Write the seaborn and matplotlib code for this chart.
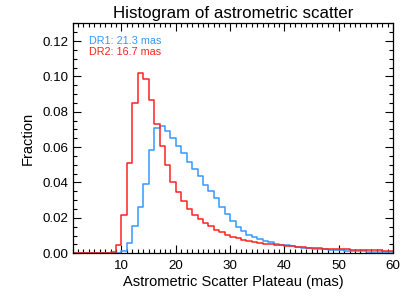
import numpy as np
import pandas as pd
import matplotlib
matplotlib.use("Agg")
import matplotlib.pyplot as plt
from matplotlib.ticker import MultipleLocator, FormatStrFormatter
import seaborn as sns

# bin edges (1 mas wide) and fractions
bin_edges = list(range(1, 61))
dr1_frac = [0, 0, 0, 0, 0, 0, 0, 0, 0,
            0.0013, 0.0056, 0.0155, 0.0262, 0.0393, 0.0586, 0.0708, 0.0717, 0.0689, 0.0650,
            0.0605, 0.0567, 0.0515, 0.0474, 0.0436, 0.0384, 0.0352, 0.0310, 0.0264, 0.0220,
            0.0183, 0.0150, 0.0124, 0.0105, 0.0091, 0.0080, 0.0069, 0.0062, 0.0053, 0.0048,
            0.0044, 0.0040, 0.0036, 0.0032, 0.0029, 0.0026, 0.0024, 0.0022, 0.0020, 0.0018,
            0.0016, 0.0014, 0.0012, 0.0011, 0.0010, 0.0009, 0.0008, 0.0007, 0.0006, 0.0005]
dr2_frac = [0, 0, 0, 0, 0, 0, 0, 0.0005, 0.0047,
            0.0215, 0.0510, 0.0850, 0.1017, 0.0987, 0.0867, 0.0730, 0.0608, 0.0500, 0.0400,
            0.0345, 0.0294, 0.0249, 0.0217, 0.0193, 0.0169, 0.0152, 0.0133, 0.0118, 0.0105,
            0.0093, 0.0084, 0.0076, 0.0070, 0.0064, 0.0058, 0.0054, 0.0050, 0.0047, 0.0044,
            0.0041, 0.0039, 0.0036, 0.0034, 0.0032, 0.0030, 0.0028, 0.0026, 0.0024, 0.0023,
            0.0022, 0.0021, 0.0020, 0.0019, 0.0018, 0.0017, 0.0017, 0.0016, 0.0015, 0.0015]
labels = ["DR1: 21.3 mas", "DR2: 16.7 mas"]
colors = ["#3399ff", "#ff2222"]

centers = np.array(bin_edges[:-1]) + 0.5
df = pd.DataFrame({
    "scatter": np.concatenate([centers, centers]),
    "frac": dr1_frac + dr2_frac,
    "release": ["DR1"] * len(centers) + ["DR2"] * len(centers),
})

sns.set_style("ticks")
plt.rcParams["font.family"] = ["Liberation Sans", "DejaVu Sans"]
plt.rcParams["text.color"] = "black"
plt.rcParams["axes.labelcolor"] = "black"

fig = plt.figure(figsize=(4.15, 3.0), dpi=100)
ax = fig.add_axes([0.175, 0.156, 0.772, 0.766])

for rel, col in zip(["DR1", "DR2"], colors):
    sub = df[df["release"] == rel]
    sns.histplot(data=sub, x="scatter", weights="frac", bins=bin_edges,
                 element="step", fill=False, color=col, linewidth=1.1, ax=ax)

ax.set_xlim(1, 60)
ax.set_ylim(0, 0.13)
ax.xaxis.set_major_locator(MultipleLocator(10))
ax.xaxis.set_minor_locator(MultipleLocator(1))
ax.yaxis.set_major_locator(MultipleLocator(0.02))
ax.yaxis.set_minor_locator(MultipleLocator(0.005))
ax.yaxis.set_major_formatter(FormatStrFormatter("%.2f"))
ax.tick_params(which="both", direction="in", top=True, right=True, colors="black",
               labelsize=9.6, width=0.8)
ax.tick_params(which="major", length=6)
ax.tick_params(which="minor", length=3)
ax.tick_params(axis="x", which="major", pad=5)
ax.tick_params(axis="y", which="major", pad=3.2)
for sp in ax.spines.values():
    sp.set_visible(True)
    sp.set_linewidth(0.9)
    sp.set_color("black")

ax.set_title("Histogram of astrometric scatter", fontsize=12.2, pad=4, color="black")
ax.set_xlabel("Astrometric Scatter Plateau (mas)", fontsize=10.5, labelpad=2)
ax.set_ylabel("Fraction", fontsize=10.5, labelpad=5)

ax.text(0.051, 0.923, labels[0], color=colors[0], fontsize=7.8, transform=ax.transAxes, va="center")
ax.text(0.051, 0.875, labels[1], color=colors[1], fontsize=7.8, transform=ax.transAxes, va="center")

fig.savefig("out.png", dpi=100)
